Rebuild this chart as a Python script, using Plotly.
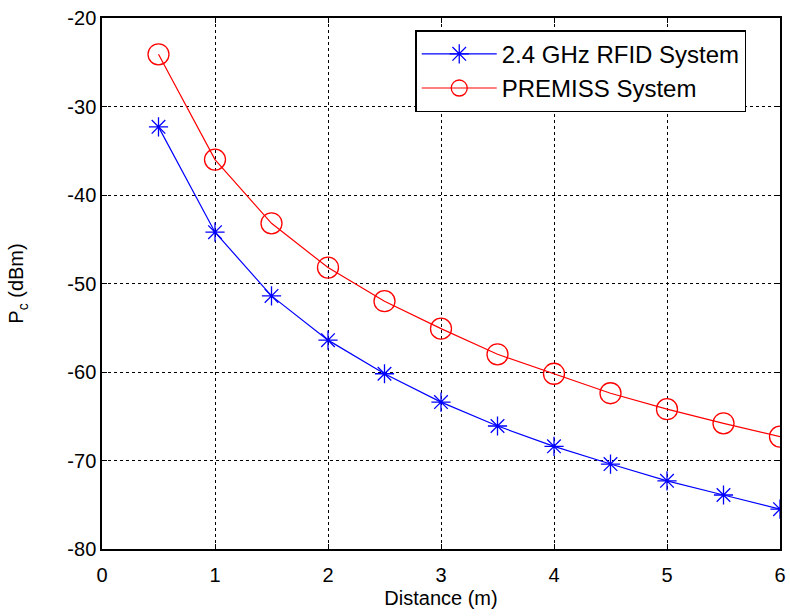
import plotly.graph_objects as go

distance = [0.5, 1.0, 1.5, 2.0, 2.5, 3.0, 3.5, 4.0, 4.5, 5.0, 5.5, 6.0]
rfid_pc = [-32.3, -44.2, -51.4, -56.4, -60.2, -63.4, -66.1, -68.4, -70.4, -72.3, -73.9, -75.5]
premiss_pc = [-24.1, -36.0, -43.2, -48.2, -52.0, -55.1, -58.0, -60.2, -62.4, -64.2, -65.8, -67.3]

x_ticks = [0, 1, 2, 3, 4, 5, 6]
x_tick_labels = ["0", "1", "2", "3", "4", "5", "6"]
y_ticks = [-80, -70, -60, -50, -40, -30, -20]
y_tick_labels = ["-80", "-70", "-60", "-50", "-40", "-30", "-20"]

font_family = "Liberation Sans, Arial, sans-serif"

fig = go.Figure()
fig.add_trace(go.Scatter(
    x=distance, y=rfid_pc, mode="lines+markers", name="2.4 GHz RFID System",
    line=dict(color="#0000FF", width=1.2),
    marker=dict(symbol="asterisk-open", size=16, line=dict(color="#0000FF", width=1.3)),
))
fig.add_trace(go.Scatter(
    x=distance, y=premiss_pc, mode="lines+markers", name="PREMISS System",
    line=dict(color="#FF0000", width=1.2),
    marker=dict(symbol="circle-open", size=21, line=dict(color="#FF0000", width=1.3)),
))

axis_common = dict(
    showline=True, mirror="allticks", linecolor="black", linewidth=1.5,
    showgrid=True, gridcolor="black", griddash="dot", gridwidth=1,
    ticks="inside", ticklen=5, tickcolor="black", zeroline=False,
    automargin=False, ticklabeloverflow="allow",
    tickfont=dict(size=20, color="black", family=font_family),
)

fig.update_layout(
    width=790, height=616,
    margin=dict(l=102, r=10, t=18, b=67),
    paper_bgcolor="white", plot_bgcolor="white",
    font=dict(family=font_family, color="black"),
    xaxis=dict(range=[0, 6], tickmode="array", tickvals=x_ticks, ticktext=x_tick_labels,
               ticklabelstandoff=7,
               title=dict(text="Distance (m)", font=dict(size=20), standoff=6), **axis_common),
    yaxis=dict(range=[-80, -20], tickmode="array", tickvals=y_ticks, ticktext=y_tick_labels,
               title=dict(text="P<sub>c</sub> (dBm)", font=dict(size=20), standoff=38), **axis_common),
    legend=dict(
        x=0.462, y=0.977, xanchor="left", yanchor="top",
        bgcolor="white", bordercolor="black", borderwidth=1.5,
        font=dict(size=24, color="black", family=font_family),
        itemwidth=75, tracegroupgap=0,
    ),
    showlegend=True,
)

fig.write_html("out.html", config={"displayModeBar": False},
               post_script="document.body.style.margin='0';")
